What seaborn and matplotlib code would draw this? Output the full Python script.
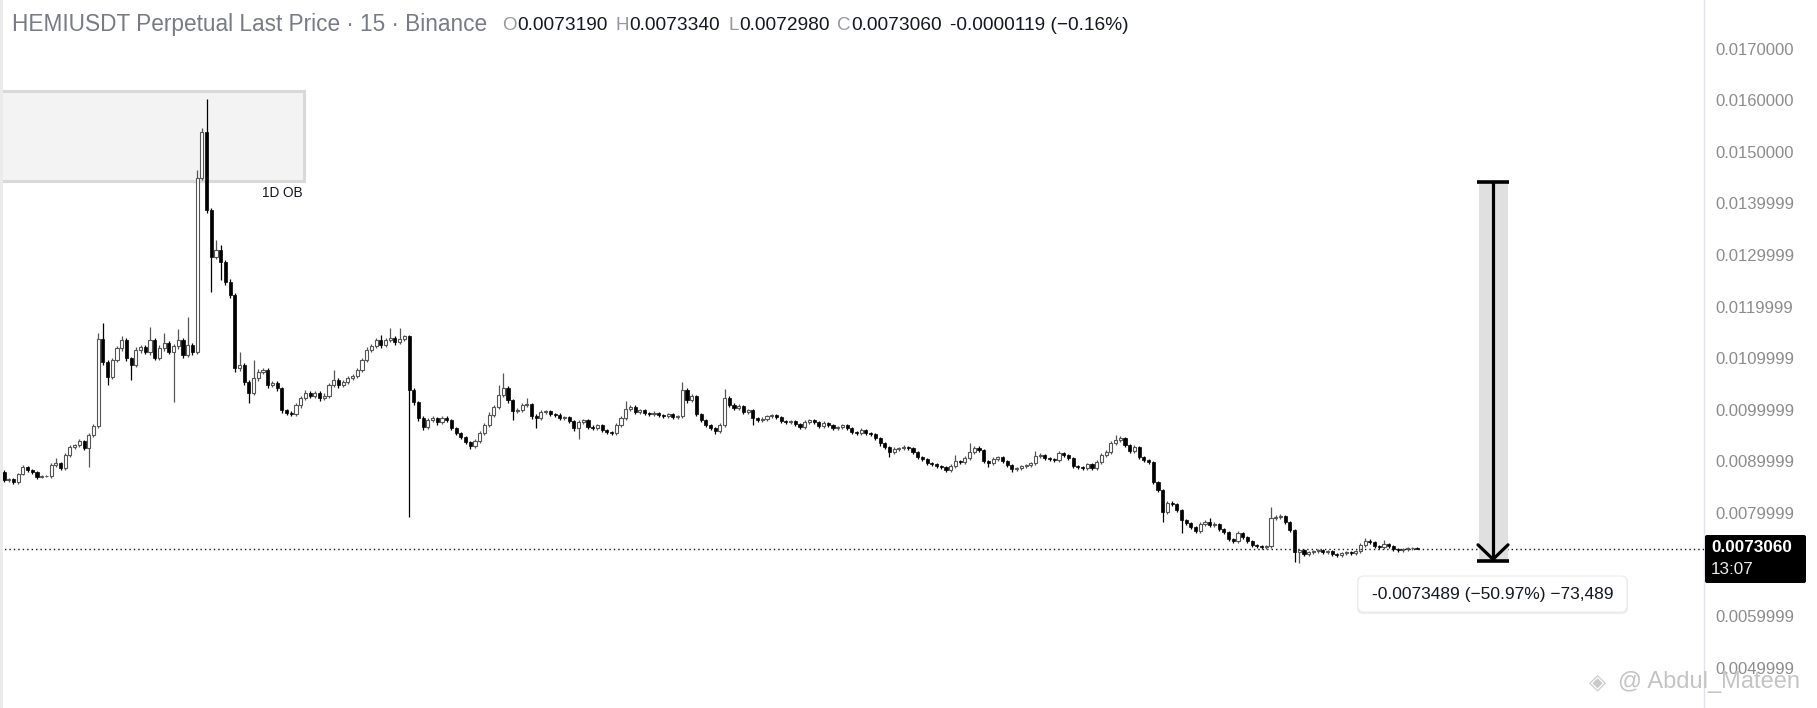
import numpy as np
import pandas as pd
import seaborn as sns
import matplotlib
matplotlib.use("Agg")
import matplotlib.pyplot as plt
from matplotlib.patches import Rectangle, FancyBboxPatch
from matplotlib.transforms import IdentityTransform

# ---------------- data ----------------
first_open = 0.008787
close_prices = [
    0.008632, 0.008651, 0.008593, 0.008748, 0.008884, 0.008826, 0.008787, 0.008690, 0.008710, 0.008710,
    0.008923, 0.008962, 0.008865, 0.009117, 0.009272, 0.009311, 0.009389, 0.009253, 0.009505, 0.009680,
    0.011367, 0.010921, 0.010630, 0.010960, 0.011193, 0.011348, 0.010999, 0.010863, 0.011154, 0.011212,
    0.011115, 0.011348, 0.010999, 0.011193, 0.011290, 0.011115, 0.011232, 0.011348, 0.011057, 0.011251,
    0.011115, 0.014491, 0.015383, 0.013870, 0.012958, 0.013094, 0.012861, 0.012473, 0.012221, 0.010805,
    0.010863, 0.010533, 0.010320, 0.010611, 0.010727, 0.010766, 0.010475, 0.010514, 0.010417, 0.009990,
    0.009932, 0.009912, 0.010087, 0.010223, 0.010320, 0.010262, 0.010320, 0.010223, 0.010262, 0.010475,
    0.010572, 0.010475, 0.010533, 0.010611, 0.010650, 0.010766, 0.010960, 0.011154, 0.011232, 0.011348,
    0.011251, 0.011348, 0.011387, 0.011309, 0.011367, 0.011426, 0.010378, 0.010145, 0.009835, 0.009660,
    0.009796, 0.009835, 0.009757, 0.009835, 0.009796, 0.009641, 0.009544, 0.009466, 0.009369, 0.009292,
    0.009389, 0.009544, 0.009700, 0.009893, 0.010048, 0.010281, 0.010417, 0.010184, 0.009971, 0.009990,
    0.010087, 0.010106, 0.009874, 0.009835, 0.009951, 0.009971, 0.009912, 0.009893, 0.009835, 0.009854,
    0.009777, 0.009641, 0.009757, 0.009796, 0.009660, 0.009641, 0.009700, 0.009602, 0.009563, 0.009544,
    0.009700, 0.009835, 0.010009, 0.010048, 0.009951, 0.009990, 0.009932, 0.009912, 0.009932, 0.009893,
    0.009874, 0.009912, 0.009854, 0.009874, 0.010378, 0.010184, 0.010262, 0.009912, 0.009796, 0.009700,
    0.009641, 0.009583, 0.009700, 0.010223, 0.010087, 0.010029, 0.010068, 0.009951, 0.009990, 0.009835,
    0.009796, 0.009815, 0.009874, 0.009893, 0.009854, 0.009777, 0.009757, 0.009777, 0.009718, 0.009660,
    0.009757, 0.009796, 0.009757, 0.009680, 0.009738, 0.009700, 0.009641, 0.009660, 0.009700, 0.009641,
    0.009563, 0.009544, 0.009602, 0.009544, 0.009524, 0.009447, 0.009350, 0.009272, 0.009175, 0.009233,
    0.009253, 0.009272, 0.009253, 0.009175, 0.009078, 0.009039, 0.008962, 0.008942, 0.008904, 0.008884,
    0.008826, 0.008904, 0.009001, 0.008981, 0.009059, 0.009175, 0.009253, 0.009214, 0.009001, 0.008962,
    0.009039, 0.009078, 0.009001, 0.008923, 0.008845, 0.008865, 0.008904, 0.008923, 0.008962, 0.009098,
    0.009117, 0.009059, 0.009039, 0.009020, 0.009156, 0.009117, 0.009059, 0.008904, 0.008884, 0.008865,
    0.008942, 0.008865, 0.008981, 0.009117, 0.009175, 0.009350, 0.009408, 0.009447, 0.009311, 0.009195,
    0.009272, 0.009078, 0.009020, 0.008981, 0.008593, 0.008438, 0.008011, 0.008186, 0.008166, 0.008050,
    0.007856, 0.007798, 0.007720, 0.007643, 0.007778, 0.007817, 0.007759, 0.007778, 0.007681, 0.007623,
    0.007487, 0.007449, 0.007604, 0.007526, 0.007449, 0.007371, 0.007352, 0.007332, 0.007352, 0.007895,
    0.007914, 0.007934, 0.007817, 0.007662, 0.007235, 0.007274, 0.007196, 0.007235, 0.007255, 0.007274,
    0.007235, 0.007255, 0.007196, 0.007177, 0.007216, 0.007235, 0.007216, 0.007255, 0.007371, 0.007449,
    0.007429, 0.007352, 0.007332, 0.007390, 0.007352, 0.007293, 0.007274, 0.007293, 0.007313, 0.007319,
    0.007306,
]
# wick lengths in units of 0.00001
upper_wicks = [
    4, 3, 2, 3, 4, 3, 2, 3, 2, 2,
    4, 10, 3, 4, 4, 3, 4, 3, 4, 4,
    12, 31, 5, 4, 5, 8, 4, 3, 6, 5,
    4, 25, 4, 6, 19, 4, 5, 21, 4, 54,
    4, 16, 8, 64, 5, 19, 10, 4, 6, 4,
    25, 5, 4, 35, 6, 5, 4, 5, 4, 3,
    3, 4, 5, 4, 6, 4, 5, 4, 6, 5,
    19, 4, 5, 4, 4, 5, 4, 6, 5, 4,
    10, 5, 19, 5, 21, 2, 2, 4, 3, 4,
    5, 4, 3, 5, 4, 3, 3, 2, 3, 3,
    4, 5, 4, 6, 5, 19, 29, 4, 3, 4,
    5, 12, 3, 4, 5, 3, 3, 3, 4, 3,
    3, 3, 4, 3, 3, 4, 3, 3, 2, 3,
    4, 5, 16, 5, 4, 3, 3, 3, 4, 3,
    3, 3, 3, 3, 16, 4, 5, 3, 3, 3,
    3, 3, 4, 17, 5, 4, 4, 3, 3, 3,
    3, 4, 3, 3, 3, 3, 3, 3, 3, 3,
    4, 3, 3, 3, 4, 3, 3, 3, 3, 3,
    3, 3, 4, 3, 3, 3, 3, 3, 3, 4,
    3, 4, 3, 3, 3, 3, 3, 3, 3, 3,
    3, 4, 12, 3, 5, 17, 4, 4, 3, 3,
    4, 3, 3, 3, 3, 3, 3, 3, 3, 10,
    4, 3, 3, 3, 5, 3, 3, 3, 3, 3,
    3, 3, 4, 5, 4, 5, 10, 4, 3, 3,
    4, 3, 3, 3, 3, 3, 3, 5, 4, 3,
    3, 3, 3, 3, 4, 4, 8, 4, 3, 3,
    3, 3, 5, 3, 3, 3, 3, 3, 3, 21,
    5, 5, 3, 3, 3, 3, 2, 2, 2, 2,
    2, 2, 2, 2, 2, 2, 2, 2, 4, 6,
    4, 3, 3, 8, 3, 3, 2, 3, 3, 2,
    1.5,
]
lower_wicks = [
    3, 3, 4, 3, 2, 3, 3, 3, 2, 2,
    3, 3, 4, 3, 3, 3, 3, 4, 37, 4,
    4, 5, 16, 4, 4, 5, 5, 29, 4, 5,
    4, 5, 4, 4, 5, 4, 97, 5, 5, 4,
    5, 4, 4, 5, 68, 4, 35, 5, 5, 8,
    5, 5, 19, 4, 5, 4, 5, 4, 5, 5,
    4, 4, 4, 5, 4, 4, 4, 5, 4, 4,
    4, 5, 4, 4, 4, 4, 4, 4, 4, 4,
    5, 4, 4, 5, 4, 4, 246, 5, 5, 5,
    4, 4, 5, 4, 4, 4, 4, 4, 4, 6,
    4, 4, 4, 4, 4, 4, 4, 5, 17, 4,
    4, 4, 5, 19, 4, 4, 4, 3, 4, 4,
    4, 5, 21, 4, 4, 4, 4, 4, 4, 3,
    3, 4, 4, 4, 4, 3, 3, 3, 3, 3,
    3, 3, 3, 3, 3, 5, 4, 4, 4, 4,
    4, 6, 3, 3, 4, 4, 3, 4, 3, 14,
    3, 3, 3, 3, 3, 3, 3, 3, 3, 3,
    3, 3, 3, 3, 3, 3, 3, 3, 3, 3,
    3, 3, 3, 3, 3, 3, 6, 3, 10, 3,
    3, 3, 3, 3, 3, 3, 3, 3, 3, 3,
    4, 3, 3, 3, 3, 3, 3, 3, 4, 8,
    3, 3, 3, 3, 6, 3, 3, 3, 3, 3,
    3, 3, 3, 3, 3, 3, 3, 3, 3, 3,
    4, 3, 3, 3, 3, 3, 3, 3, 4, 3,
    3, 4, 3, 3, 4, 4, 19, 4, 3, 4,
    25, 4, 4, 4, 3, 3, 3, 3, 4, 4,
    4, 4, 3, 4, 4, 3, 3, 3, 3, 3,
    3, 3, 3, 4, 19, 21, 3, 3, 3, 3,
    3, 3, 3, 3, 3, 3, 3, 3, 3, 3,
    3, 3, 3, 3, 3, 3, 3, 3, 3, 3,
    0.8,
]
WICK_UNIT = 1e-5

tick_values = [0.0170000, 0.0160000, 0.0150000, 0.0139999, 0.0129999, 0.0119999,
               0.0109999, 0.0099999, 0.0089999, 0.0079999, 0.0059999, 0.0049999]

ob_top, ob_bottom = 0.016180, 0.014435          # "1D OB" zone
measure_start = 0.014418
measure_change = -0.0073489
measure_label = "-0.0073489 (\u221250.97%) \u221273,489"
header_title = "HEMIUSDT Perpetual Last Price \u00b7 15 \u00b7 Binance"
header_change = "-0.0000119 (\u22120.16%)"
clock_text = "13:07"

# ---------------- layout ----------------
W, H = 1817, 708
AX_W = 1704
PX_PER_CANDLE = 4.71
X0_PX = 4
Y_TOP, Y_BOT = 0.017944, 0.004215

closes = np.array(close_prices)
opens = np.concatenate([[first_open], closes[:-1]])
highs = np.maximum(opens, closes) + np.array(upper_wicks) * WICK_UNIT
lows = np.minimum(opens, closes) - np.array(lower_wicks) * WICK_UNIT
df = pd.DataFrame({"i": np.arange(len(closes)), "open": opens, "high": highs,
                   "low": lows, "close": closes})
df["up"] = df["close"] >= df["open"]

xmin = -X0_PX / PX_PER_CANDLE
xmax = xmin + AX_W / PX_PER_CANDLE


def px2x(px):
    return xmin + px / PX_PER_CANDLE


def px2y(py):
    return Y_TOP - py * (Y_TOP - Y_BOT) / H


def y2px(v):
    return (Y_TOP - v) / (Y_TOP - Y_BOT) * H


sns.set_theme(style="white")
plt.rcParams["font.family"] = ["Liberation Sans", "DejaVu Sans"]

fig = plt.figure(figsize=(W / 100, H / 100), dpi=100)
fig.patch.set_facecolor("white")
ax = fig.add_axes([0, 0, AX_W / W, 1])
ax.set_xlim(xmin, xmax)
ax.set_ylim(Y_BOT, Y_TOP)
for s in ["top", "left", "bottom"]:
    ax.spines[s].set_visible(False)
ax.spines["right"].set_color("#e0e3eb")
ax.spines["right"].set_linewidth(1.0)
ax.set_xticks([])
ax.yaxis.tick_right()
ax.set_yticks(tick_values)
ax.set_yticklabels([f"{v:.7f}" for v in tick_values])
ax.tick_params(axis="y", length=0, pad=8, labelsize=12, labelcolor="#8c8c8c")
ax.grid(False)

# order block zone
ax.add_patch(Rectangle((px2x(-20), ob_bottom), px2x(304) - px2x(-20), ob_top - ob_bottom,
                       facecolor="#f3f3f3", edgecolor="#d9d9d9", linewidth=2.2, zorder=1))
ax.text(px2x(303), px2y(193), "1D OB", ha="right", va="center", fontsize=9.8,
        color="#131722", zorder=5)

# candles
up = df[df["up"]]
dn = df[~df["up"]]
ax.vlines(up["i"], up["low"], up["high"], color="#555555", linewidth=0.9, zorder=2)
ax.vlines(dn["i"], dn["low"], dn["high"], color="#000000", linewidth=0.9, zorder=2)
ax.bar(up["i"], up["close"] - up["open"], bottom=up["open"], width=0.66,
       color="white", edgecolor="#555555", linewidth=0.8, zorder=3)
ax.bar(dn["i"], dn["close"] - dn["open"], bottom=dn["open"], width=0.66,
       color="#000000", edgecolor="#000000", linewidth=0.5, zorder=3)

# last price dotted line
last = closes[-1]
ax.axhline(last, color="#131722", linewidth=1.0, linestyle=(0, (1, 2.2)), zorder=4)

# measure tool
m_end = measure_start + measure_change
bx0, bx1, bxc = px2x(1479), px2x(1508), px2x(1493)
ax.add_patch(Rectangle((bx0, m_end), bx1 - bx0, measure_start - m_end,
                       facecolor="#e0e0e0", edgecolor="none", zorder=5))
ax.plot([bxc, bxc], [measure_start, m_end], color="black", linewidth=2.3, zorder=6,
        solid_capstyle="butt")
ax.plot([px2x(1477), px2x(1509)], [measure_start, measure_start], color="black",
        linewidth=2.6, zorder=6, solid_capstyle="butt")
ax.plot([px2x(1477), px2x(1509)], [m_end, m_end], color="black", linewidth=2.6,
        zorder=6, solid_capstyle="butt")
end_px = y2px(m_end)
ax.plot([px2x(1478), bxc, px2x(1508)],
        [px2y(end_px - 16), px2y(end_px - 1.5), px2y(end_px - 16)],
        color="black", linewidth=2.3, zorder=6, solid_joinstyle="miter")

# measure label box (pixel coords)
shadow = FancyBboxPatch((1357, H - 614), 271, 38, boxstyle="round,pad=0,rounding_size=6",
                        transform=IdentityTransform(), facecolor="#000000", alpha=0.07,
                        edgecolor="none", zorder=7)
fig.add_artist(shadow)
box = FancyBboxPatch((1358, H - 612), 269, 36, boxstyle="round,pad=0,rounding_size=6",
                     transform=IdentityTransform(), facecolor="white",
                     edgecolor="#ececec", linewidth=0.8, zorder=8)
fig.add_artist(box)
fig.text(1492.5 / W, 1 - 594 / H, measure_label, ha="center", va="center",
         fontsize=12.5, color="#131722", zorder=9)

# last price label on the axis
fig.add_artist(FancyBboxPatch((1705, H - 583), 101, 48, boxstyle="round,pad=0,rounding_size=2",
                              transform=IdentityTransform(), facecolor="black",
                              edgecolor="none", zorder=10))
fig.text(1711 / W, 1 - 548 / H, f"{last:.7f}", color="white", fontsize=12.3,
         fontweight="bold", va="center", ha="left", zorder=11)
fig.text(1711 / W, 1 - 570 / H, clock_text, color="#ececec", fontsize=12.3,
         va="center", ha="left", zorder=11)

# header, laid out piece by piece
hy = 1 - 25 / H
renderer = fig.canvas.get_renderer()
fig.text(12 / W, hy, header_title, color="#787b86", fontsize=16.3, va="center", ha="left")
o_, h_, l_, c_ = opens[-1], highs[-1], lows[-1], closes[-1]
pieces = [("O", f"{o_:.7f}"), ("H", f"{h_:.7f}"), ("L", f"{l_:.7f}"), ("C", f"{c_:.7f}")]
x = 502.0
for letter, val in pieces:
    t1 = fig.text(x / W, hy, letter, color="#9598a1", fontsize=13.5, va="center", ha="left")
    x = t1.get_window_extent(renderer).x1 + 0.5
    t2 = fig.text(x / W, hy, val, color="#131722", fontsize=13.8, va="center", ha="left")
    x = t2.get_window_extent(renderer).x1 + 8
fig.text(x / W, hy, header_change, color="#131722", fontsize=13.8, va="center", ha="left")

# left edge strip
fig.add_artist(Rectangle((0, 0), 3 / W, 1, transform=fig.transFigure,
                         facecolor="#ebebeb", edgecolor="none", zorder=12))

# watermark
fig.text(1597 / W, 1 - 682 / H, "\u25c8", color="#cacaca", fontsize=16,
         family=["DejaVu Sans"], ha="center", va="center", zorder=12)
fig.text(1618 / W, 1 - 682 / H, "@ Abdul_Mateen", color="#c4c4c4", fontsize=17,
         ha="left", va="center", zorder=12)

fig.savefig("out.png", dpi=100, facecolor="white")
